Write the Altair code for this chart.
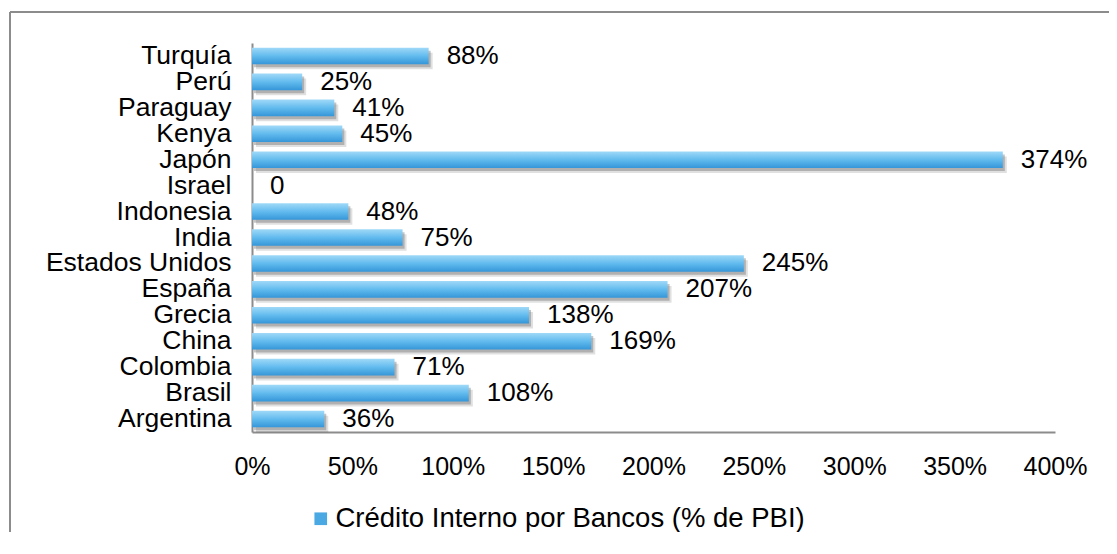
import altair as alt
import pandas as pd

countries = ["Turquía", "Perú", "Paraguay", "Kenya", "Japón", "Israel", "Indonesia",
             "India", "Estados Unidos", "España", "Grecia", "China", "Colombia",
             "Brasil", "Argentina"]
values = [88, 25, 41, 45, 374, 0, 48, 75, 245, 207, 138, 169, 71, 108, 36]
labels = ["88%", "25%", "41%", "45%", "374%", "0", "48%", "75%", "245%", "207%",
          "138%", "169%", "71%", "108%", "36%"]
series_name = "Crédito Interno por Bancos (% de PBI)"
x_ticks = [0, 50, 100, 150, 200, 250, 300, 350, 400]

df = pd.DataFrame({"pais": countries, "valor": values, "etiqueta": labels,
                   "serie": [series_name] * len(countries)})

FONT = "Liberation Sans"

y_enc = alt.Y("pais:N", sort=countries, title=None,
              scale=alt.Scale(paddingInner=0.36, paddingOuter=0.18),
              axis=alt.Axis(labelFontSize=26.5, labelColor="#000", labelFont=FONT,
                            labelPadding=21, ticks=False, domainColor="#8c8c8c",
                            domainWidth=2, grid=False, labelLimit=400,
                            labelOverlap=False))
x_enc = alt.X("valor:Q", title=None,
              scale=alt.Scale(domain=[0, 400], nice=False),
              axis=alt.Axis(values=x_ticks, labelExpr="datum.value + '%'",
                            labelFontSize=25, labelColor="#000", labelFont=FONT,
                            labelPadding=22, ticks=False, domainColor="#8c8c8c",
                            domainWidth=2, grid=False, labelFlush=False,
                            labelOverlap=False))

base = alt.Chart(df)

shadow2 = base.mark_bar(color="#000000", opacity=0.12, xOffset=4, yOffset=5).encode(x=x_enc, y=y_enc)
shadow = base.mark_bar(color="#555555", opacity=0.35, xOffset=2, yOffset=3).encode(x=x_enc, y=y_enc)

grad = alt.LinearGradient(
    gradient="linear",
    stops=[alt.GradientStop(color="#a0d9f8", offset=0),
           alt.GradientStop(color="#62bbee", offset=0.5),
           alt.GradientStop(color="#3596d8", offset=1)],
    x1=0, x2=0, y1=0, y2=1)
bars = base.mark_bar(color=grad).encode(x=x_enc, y=y_enc)

text = base.mark_text(align="left", baseline="middle", dx=18, fontSize=26,
                      font=FONT, color="#000").encode(x=x_enc, y=y_enc, text="etiqueta:N")

legend_layer = base.mark_square(opacity=0).encode(
    x=x_enc, y=y_enc,
    color=alt.Color("serie:N", scale=alt.Scale(range=["#4aa8e3"]),
                    legend=alt.Legend(orient="none", legendX=55, legendY=462,
                                      title=None, symbolType="square", symbolSize=160,
                                      symbolOpacity=1, symbolStrokeWidth=0,
                                      labelFontSize=27.5, labelFont=FONT,
                                      labelColor="#000", labelOffset=1,
                                      labelLimit=900)))

one = alt.Chart(pd.DataFrame({"a": [0]}))
border_left = one.mark_rule(color="#8c8c8c", strokeWidth=2).encode(
    x=alt.value(-242), y=alt.value(-31), y2=alt.value(560))
border_top = one.mark_rule(color="#8c8c8c", strokeWidth=2).encode(
    x=alt.value(-242), x2=alt.value(900), y=alt.value(-31))

chart = alt.layer(border_left, border_top, shadow2, shadow, bars, text, legend_layer).properties(
    width=803, height=389,
    autosize=alt.AutoSizeParams(type="none"),
    padding={"left": 244, "top": 35, "right": 54, "bottom": 100},
    view=alt.ViewBackground(stroke=None, strokeWidth=0),
).configure_view(strokeWidth=0, stroke=None).configure(font=FONT, background="white")

chart.save("out.html", embed_options={"renderer": "svg", "actions": False})
